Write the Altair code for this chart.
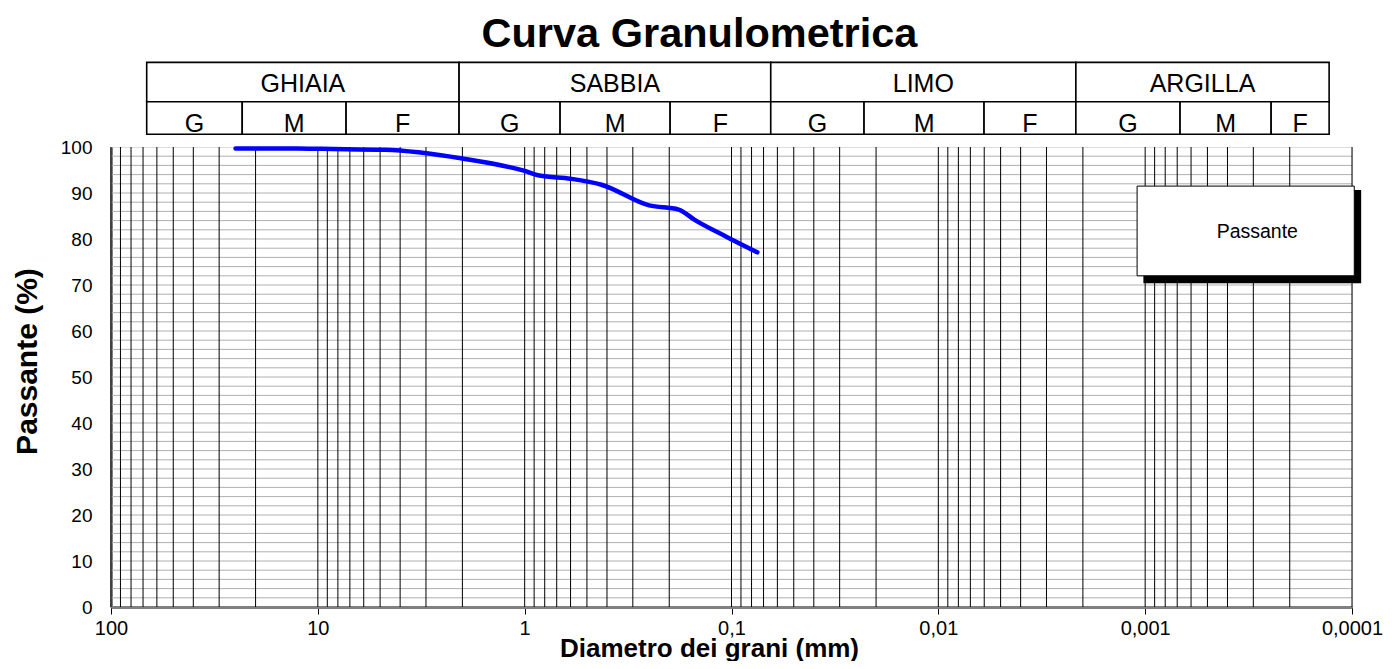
import altair as alt
import pandas as pd
import numpy as np

# ---- data ----
diam_mm = [25, 19, 12.5, 9.5, 4.75, 2, 1, 0.85, 0.6, 0.425, 0.25, 0.18, 0.15, 0.106, 0.075]
passante = [99.7, 99.7, 99.7, 99.6, 99.4, 97.5, 94.8, 93.8, 93.1, 91.8, 87.3, 86.4, 84.1, 80.5, 77.1]

decades = [100, 10, 1, 0.1, 0.01, 0.001, 0.0001]
grid_multipliers = [1, 2, 3, 4, 5, 6, 7, 8, 9]
grid_exponents = [-4, -3, -2, -1, 0, 1]
y_ticks = [0, 10, 20, 30, 40, 50, 60, 70, 80, 90, 100]
y_minor = list(range(2, 100, 2))

classes = ["GHIAIA", "SABBIA", "LIMO", "ARGILLA"]
class_bounds = [67.2, 2.075, 0.0646, 0.002163, 0.000129]
sub_labels = ["G", "M", "F", "G", "M", "F", "G", "M", "F", "G", "M", "F"]
sub_bounds = [67.2, 23.2, 7.3, 2.075, 0.674, 0.198, 0.0646, 0.02286, 0.00601,
              0.002163, 0.000678, 0.000246, 0.000129]

legend_label = ["Passante"]

# ---- layout helpers (positions in data units) ----
table_top, table_mid, table_bottom = 118.4, 109.85, 102.76
main_base, sub_base = 111.9, 103.2
legend_box = dict(d=0.001094, d2=0.0000975, p=72.0, p2=91.5)
legend_shadow = dict(d=0.00102, d2=0.0000903, p=70.4, p2=90.65)
legend_text = dict(d=0.000287, p=81.5)

FONT = "Liberation Sans"

grid_x = [m * 10.0 ** k for k in grid_exponents for m in grid_multipliers] + [100]

xscale = alt.Scale(type="log", domain=[0.0001, 100], reverse=True)
yscale = alt.Scale(domain=[0, 100], nice=False, zero=False)

xaxis = alt.Axis(
    values=decades,
    labelExpr="replace(toString(datum.value), '.', ',')",
    grid=False, labelFlush=False, labelOverlap=False,
    domainColor="#808080", domainWidth=3,
    tickColor="#000000", tickSize=7, tickWidth=1,
    labelFont=FONT, labelFontSize=20, labelColor="black", labelPadding=4,
    title="Diametro dei grani (mm)", titleFont=FONT, titleFontSize=26,
    titleFontWeight="bold", titleColor="black",
    titleX=598, titleY=49, titleBaseline="alphabetic", titleAlign="center",
)
yaxis = alt.Axis(
    values=y_ticks, grid=False,
    domainColor="#808080", domainWidth=3, ticks=False,
    labelFont=FONT, labelFontSize=19, labelColor="black", labelPadding=19,
    title="Passante (%)", titleFont=FONT, titleFontSize=30,
    titleFontWeight="bold", titleColor="black",
    titleAngle=270, titleX=-84, titleY=214, titleBaseline="middle", titleAlign="center",
)


def X(field="d"):
    return alt.X(f"{field}:Q", scale=xscale, axis=xaxis)


def Y(field="p"):
    return alt.Y(f"{field}:Q", scale=yscale, axis=yaxis)


hgrid = alt.Chart(pd.DataFrame({"p": y_minor})).mark_rule(
    color="#b0b0b0", strokeWidth=1).encode(y=Y())
vgrid = alt.Chart(pd.DataFrame({"d": grid_x})).mark_rule(
    color="black", strokeWidth=1).encode(x=X())

curve = alt.Chart(pd.DataFrame({"d": diam_mm, "p": passante})).mark_line(
    color="#0000ff", strokeWidth=4.5, interpolate="monotone", strokeCap="round"
).encode(x=X(), y=Y())

# header table
main_df = pd.DataFrame({
    "d": class_bounds[:-1], "d2": class_bounds[1:],
    "p": [table_mid] * 4, "p2": [table_top] * 4, "label": classes,
})
main_df["dc"] = np.sqrt(main_df["d"] * main_df["d2"])
main_df["pb"] = main_base
sub_df = pd.DataFrame({
    "d": sub_bounds[:-1], "d2": sub_bounds[1:],
    "p": [table_bottom] * 12, "p2": [table_mid] * 12, "label": sub_labels,
})
sub_df["dc"] = np.sqrt(sub_df["d"] * sub_df["d2"])
sub_df["pb"] = sub_base
cells = pd.concat([main_df, sub_df], ignore_index=True)

table_rects = alt.Chart(cells).mark_rect(
    fill="white", stroke="black", strokeWidth=1.6
).encode(x=X(), x2="d2:Q", y=Y(), y2="p2:Q")
table_text = alt.Chart(cells).mark_text(
    font=FONT, fontSize=25, color="black", baseline="alphabetic", align="center"
).encode(x=X("dc"), y=Y("pb"), text="label:N")

# legend box with shadow
shadow = alt.Chart(pd.DataFrame([legend_shadow])).mark_rect(
    fill="black").encode(x=X(), x2="d2:Q", y=Y(), y2="p2:Q")
box = alt.Chart(pd.DataFrame([legend_box])).mark_rect(
    fill="white", stroke="black", strokeWidth=1).encode(x=X(), x2="d2:Q", y=Y(), y2="p2:Q")
ltext = alt.Chart(pd.DataFrame({"d": [legend_text["d"]], "p": [legend_text["p"]],
                                "label": legend_label})).mark_text(
    font=FONT, fontSize=19.5, color="black", baseline="middle", align="center"
).encode(x=X(), y=Y(), text="label:N")

chart = alt.layer(
    hgrid, vgrid, curve, table_rects, table_text, shadow, box, ltext
).properties(
    width=1241, height=460,
    title=alt.TitleParams("Curva Granulometrica", font=FONT, fontSize=41.5,
                          fontWeight="bold", color="black", anchor="middle",
                          frame="group", dx=-32, offset=6),
    autosize=alt.AutoSizeParams(type="none"),
    padding={"left": 103, "top": 139, "right": 32, "bottom": 54},
).configure_view(stroke="#808080", strokeWidth=3).configure(background="white")

chart.save("out.html", embed_options={"renderer": "svg", "actions": False})
